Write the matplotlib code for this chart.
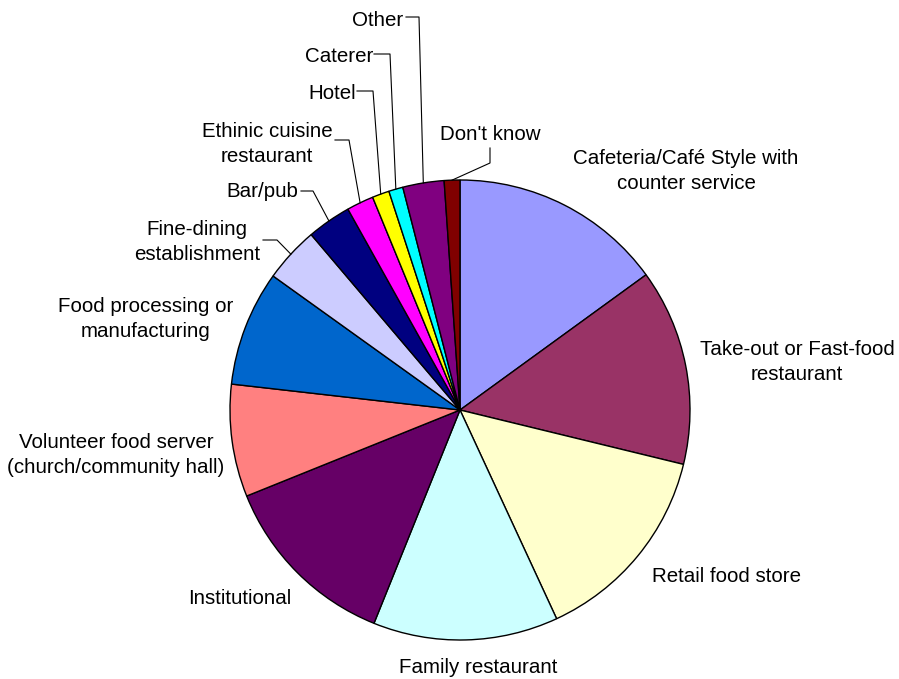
import matplotlib.pyplot as plt
import numpy as np

plt.rcParams['font.family'] = ['Liberation Sans', 'DejaVu Sans']

# share of respondents by type of food service establishment (%)
categories = [
    'Cafeteria/Café Style with\ncounter service',
    'Take-out or Fast-food\nrestaurant',
    'Retail food store',
    'Family restaurant',
    'Institutional',
    'Volunteer food server\n(church/community hall)',
    'Food processing or\nmanufacturing',
    'Fine-dining\nestablishment',
    'Bar/pub',
    'Ethinic cuisine\nrestaurant',
    'Hotel',
    'Caterer',
    'Other',
    "Don't know",
]
shares = [15.0, 13.8, 14.3, 13.0, 12.8, 7.9, 8.1, 3.9, 3.1, 1.9, 1.2, 1.0, 2.9, 1.1]
colors = ['#9999FF', '#993366', '#FFFFCC', '#CCFFFF', '#660066', '#FF8080',
          '#0066CC', '#CCCCFF', '#000080', '#FF00FF', '#FFFF00', '#00FFFF',
          '#800080', '#800000']

W, H = 899, 679
cx, cy, r = 460, H - 410, 230

# label placement in pixels from the top-left: (x centre, last baseline,
# leader line as (x start, elbow x, y) or None)
label_pos = [
    (686, 189, None),
    (797, 380, None),
    (726, 582, None),
    (478, 673, None),
    (240, 604, None),
    (116, 473, None),
    (146, 337, None),
    (197, 260, (263, 277, 240)),
    (262, 197, (301, 313, 191)),
    (267, 162, (335, 349, 140)),
    (332, 99, (357, 373, 91)),
    (339, 62, (374, 390, 54)),
    (378, 26, (406, 419, 17)),
    (490, 140, None),
]

fig = plt.figure(figsize=(W / 100, H / 100), dpi=100)
ax = fig.add_axes([0, 0, 1, 1])

wedges, _ = ax.pie(shares, colors=colors, startangle=90, counterclock=False,
                   center=(cx, cy), radius=r, frame=True,
                   wedgeprops=dict(edgecolor='black', linewidth=1.0))
ax.set_xlim(0, W)
ax.set_ylim(0, H)
ax.set_aspect('equal')
ax.axis('off')

for i, w in enumerate(wedges):
    mid = np.deg2rad((w.theta1 + w.theta2) / 2)
    rx, ry = cx + r * np.cos(mid), cy + r * np.sin(mid)
    x, y, leader = label_pos[i]
    ax.text(x, H - y, categories[i], ha='center', va='baseline', fontsize=14.8,
            linespacing=1.37, multialignment='center')
    if leader:
        lx0, lx1, ly = leader
        ax.plot([lx0, lx1, rx], [H - ly, H - ly, ry], color='black', lw=0.8)

# "Don't know" hangs straight down from its label before bending to the slice
w = wedges[13]
mid = np.deg2rad((w.theta1 + w.theta2) / 2)
ax.plot([490, 490, cx + r * np.cos(mid)], [H - 148, H - 163, cy + r * np.sin(mid)],
        color='black', lw=0.8)

fig.savefig('out.png', dpi=100)
